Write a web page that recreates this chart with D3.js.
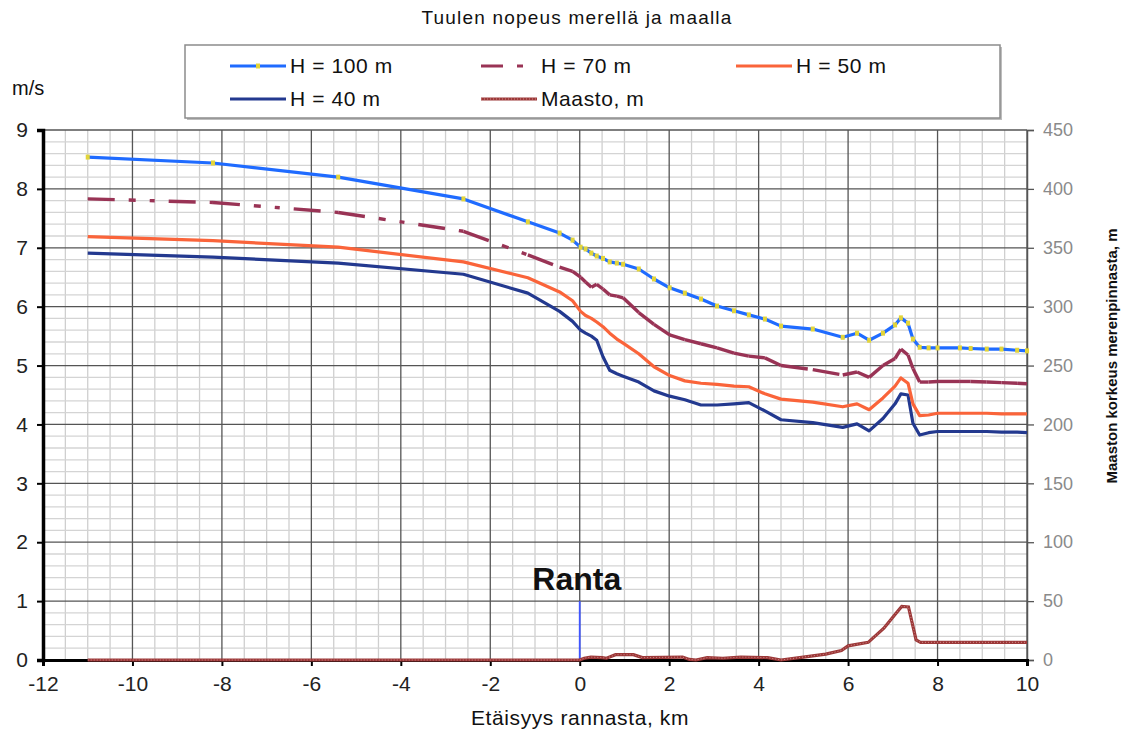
<!DOCTYPE html>
<html>
<head>
<meta charset="utf-8">
<script src="https://cdn.jsdelivr.net/npm/d3@7"></script>
<style>
  body { margin: 0; background: #ffffff; }
  text { font-family: "Liberation Sans", Arial, sans-serif; fill: #111; }
</style>
</head>
<body>
<script>
      const width = 1123;
      const height = 740;
      const margins = { top: 130, right: 96, bottom: 80, left: 43 };

      // Etäisyys rannasta, km (common x for the wind series)
      const distanceKm = [-11, -8.2, -5.4, -2.6, -1.16, -0.45, -0.16, 0.02, 0.13, 0.26, 0.38, 0.52, 0.67, 0.83, 0.97,
        1.32, 1.66, 2.01, 2.35, 2.71, 3.07, 3.45, 3.78, 4.14, 4.5, 5.21, 5.88, 6.2, 6.47, 6.78, 7.05, 7.18, 7.34,
        7.45, 7.6, 7.8, 8.0, 8.5, 8.74, 9.1, 9.43, 9.78, 10];

      const h100 = [8.54, 8.44, 8.2, 7.83, 7.44, 7.25, 7.13, 7.01, 6.98, 6.91, 6.86, 6.82, 6.76, 6.74, 6.72,
        6.64, 6.47, 6.32, 6.23, 6.13, 6.01, 5.93, 5.86, 5.79, 5.67, 5.62, 5.48, 5.55, 5.43, 5.55, 5.69, 5.81, 5.72,
        5.45, 5.31, 5.3, 5.3, 5.3, 5.29, 5.28, 5.28, 5.26, 5.25];
      const h70 = [7.83, 7.77, 7.6, 7.28, 6.88, 6.67, 6.6, 6.5, 6.42, 6.33, 6.38, 6.3, 6.2, 6.18, 6.15,
        5.9, 5.7, 5.52, 5.44, 5.37, 5.3, 5.21, 5.16, 5.13, 5.0, 4.93, 4.84, 4.89, 4.8, 5.0, 5.12, 5.28, 5.18,
        4.95, 4.72, 4.72, 4.73, 4.73, 4.73, 4.72, 4.71, 4.7, 4.69];
      const h50 = [7.19, 7.12, 7.01, 6.76, 6.49, 6.25, 6.1, 5.92, 5.85, 5.8, 5.74, 5.66, 5.55, 5.45, 5.38,
        5.2, 4.98, 4.83, 4.74, 4.7, 4.68, 4.65, 4.64, 4.52, 4.43, 4.38, 4.3, 4.35, 4.25, 4.45, 4.65, 4.79, 4.7,
        4.35, 4.15, 4.16, 4.19, 4.19, 4.19, 4.19, 4.18, 4.18, 4.18];
      const h40 = [6.91, 6.84, 6.74, 6.55, 6.23, 5.92, 5.75, 5.6, 5.55, 5.5, 5.43, 5.15, 4.92, 4.86, 4.82,
        4.72, 4.57, 4.48, 4.42, 4.33, 4.33, 4.35, 4.37, 4.23, 4.08, 4.03, 3.95, 4.01, 3.89, 4.1, 4.35, 4.52, 4.5,
        4.02, 3.82, 3.86, 3.88, 3.88, 3.88, 3.88, 3.87, 3.87, 3.86];

      // Maasto (terrain), secondary axis in metres
      const terrainKm = [-11, 0, 0.1, 0.25, 0.5, 0.6, 0.8, 1.2, 1.4, 2.3, 2.45, 2.6, 2.85, 3.2, 3.6, 4.2, 4.5,
        5.0, 5.5, 5.85, 6.0, 6.45, 6.8, 7.1, 7.2, 7.35, 7.52, 7.62, 8.5, 10];
      const terrainM = [0, 0, 1.5, 2.5, 2, 1.5, 4.5, 4.5, 2, 2.5, 0.5, 0, 2, 1.5, 2.5, 2, 0,
        2.5, 5, 8, 12, 15, 27, 41, 45.5, 45, 17, 15, 15, 15];

      const xTicks = [-12, -10, -8, -6, -4, -2, 0, 2, 4, 6, 8, 10];
      const yTicks = [0, 1, 2, 3, 4, 5, 6, 7, 8, 9];
      const y2Ticks = [0, 50, 100, 150, 200, 250, 300, 350, 400, 450];

      const svg = d3
        .select("body")
        .append("svg")
        .attr("width", width)
        .attr("height", height);

      const x = d3.scaleLinear().domain([-12, 10]).range([margins.left, width - margins.right]);
      const y = d3.scaleLinear().domain([0, 9]).range([height - margins.bottom, margins.top]);
      const y2 = d3.scaleLinear().domain([0, 450]).range([height - margins.bottom, margins.top]);

      // minor grid
      const grid = svg.append("g");
      grid
        .selectAll(".vminor")
        .data(d3.range(-12, 10.01, 0.5).filter((d) => Math.abs(d % 2) > 0.01))
        .enter()
        .append("line")
        .attr("x1", (d) => x(d))
        .attr("x2", (d) => x(d))
        .attr("y1", y(0))
        .attr("y2", y(9))
        .attr("stroke", "#cfcfcf")
        .attr("stroke-width", 1.3);
      grid
        .selectAll(".hminor")
        .data(d3.range(0, 9.001, 0.2).filter((d) => Math.abs(d - Math.round(d)) > 0.01))
        .enter()
        .append("line")
        .attr("x1", x(-12))
        .attr("x2", x(10))
        .attr("y1", (d) => y(d))
        .attr("y2", (d) => y(d))
        .attr("stroke", "#d4d4d4")
        .attr("stroke-width", 1.3);

      // major grid
      grid
        .selectAll(".vmajor")
        .data(xTicks)
        .enter()
        .append("line")
        .attr("x1", (d) => x(d))
        .attr("x2", (d) => x(d))
        .attr("y1", y(0))
        .attr("y2", y(9))
        .attr("stroke", "#555")
        .attr("stroke-width", 1.3);
      grid
        .selectAll(".hmajor")
        .data(yTicks)
        .enter()
        .append("line")
        .attr("x1", x(-12))
        .attr("x2", x(10))
        .attr("y1", (d) => y(d))
        .attr("y2", (d) => y(d))
        .attr("stroke", "#555")
        .attr("stroke-width", 1.3);

      // right axis (terrain)
      const rightAxis = svg
        .append("g")
        .attr("transform", "translate(" + x(10) + ",0)")
        .call(d3.axisRight(y2).tickValues(y2Ticks).tickSize(7).tickPadding(9));
      rightAxis.select(".domain").attr("stroke", "#555").attr("stroke-width", 1.5);
      rightAxis.selectAll(".tick line").attr("stroke", "#555").attr("stroke-width", 1.3);
      rightAxis
        .selectAll(".tick text")
        .attr("font-size", 18)
        .attr("font-family", "Liberation Sans, Arial, sans-serif")
        .style("fill", "#8a8a8a");

      // bottom axis
      const bottomAxis = svg
        .append("g")
        .attr("transform", "translate(0," + y(0) + ")")
        .call(
          d3
            .axisBottom(x)
            .tickValues(xTicks)
            .tickFormat((d) => String(d))
            .tickSize(6)
            .tickPadding(10)
        );
      bottomAxis.select(".domain").attr("stroke", "#000").attr("stroke-width", 3);
      bottomAxis.selectAll(".tick line").attr("stroke", "#000").attr("stroke-width", 2);
      bottomAxis
        .selectAll(".tick text")
        .attr("font-size", 21)
        .attr("font-family", "Liberation Sans, Arial, sans-serif")
        .style("fill", "#222");

      // left axis
      const leftAxis = svg
        .append("g")
        .attr("transform", "translate(" + x(-12) + ",0)")
        .call(d3.axisLeft(y).tickValues(yTicks).tickSize(6).tickPadding(9));
      leftAxis.select(".domain").attr("stroke", "#000").attr("stroke-width", 3.5);
      leftAxis.selectAll(".tick line").attr("stroke", "#000").attr("stroke-width", 2);
      leftAxis
        .selectAll(".tick text")
        .attr("font-size", 21)
        .attr("font-family", "Liberation Sans, Arial, sans-serif")
        .style("fill", "#222");

      // Ranta marker
      svg
        .append("line")
        .attr("x1", x(0))
        .attr("x2", x(0))
        .attr("y1", y(0))
        .attr("y2", y(1))
        .attr("stroke", "#3f55ff")
        .attr("stroke-width", 1.8);
      svg
        .append("text")
        .attr("x", x(0) - 3)
        .attr("y", y(1) - 11)
        .attr("text-anchor", "middle")
        .attr("font-size", 32)
        .attr("font-weight", "bold")
        .text("Ranta");

      const line = d3
        .line()
        .x((d) => x(d[0]))
        .y((d) => y(d[1]));
      const line2 = d3
        .line()
        .x((d) => x(d[0]))
        .y((d) => y2(d[1]));

      // terrain
      const terrain = d3.zip(terrainKm, terrainM);
      svg
        .append("path")
        .datum(terrain)
        .attr("d", line2)
        .attr("fill", "none")
        .attr("stroke", "#9c3838")
        .attr("stroke-width", 3.2);
      svg
        .append("path")
        .datum(terrain)
        .attr("d", line2)
        .attr("fill", "none")
        .attr("stroke", "#d08a8a")
        .attr("stroke-width", 1)
        .attr("stroke-dasharray", "1,2");

      // H = 40, H = 50
      svg
        .append("path")
        .datum(d3.zip(distanceKm, h40))
        .attr("d", line)
        .attr("fill", "none")
        .attr("stroke", "#23398f")
        .attr("stroke-width", 3.2)
        .attr("stroke-linejoin", "round");
      svg
        .append("path")
        .datum(d3.zip(distanceKm, h50))
        .attr("d", line)
        .attr("fill", "none")
        .attr("stroke", "#fa643a")
        .attr("stroke-width", 3.2)
        .attr("stroke-linejoin", "round");

      // H = 70, dash pattern restarts at every point
      const pts70 = d3.zip(distanceKm, h70);
      svg
        .append("g")
        .selectAll("path")
        .data(d3.pairs(pts70))
        .enter()
        .append("path")
        .attr("d", (d) => line(d))
        .attr("fill", "none")
        .attr("stroke", "#993355")
        .attr("stroke-width", 3.4)
        .attr("stroke-dasharray", "27,14,7,14,5,14");

      // H = 100 with markers
      const pts100 = d3.zip(distanceKm, h100);
      svg
        .append("path")
        .datum(pts100)
        .attr("d", line)
        .attr("fill", "none")
        .attr("stroke", "#1f6bff")
        .attr("stroke-width", 3.2)
        .attr("stroke-linejoin", "round");
      svg
        .append("g")
        .selectAll("rect")
        .data(pts100)
        .enter()
        .append("rect")
        .attr("x", (d) => x(d[0]) - 2)
        .attr("y", (d) => y(d[1]) - 2.5)
        .attr("width", 4)
        .attr("height", 5)
        .attr("fill", "#e3d53a");

      // texts
      svg
        .append("text")
        .attr("x", 577)
        .attr("y", 24)
        .attr("text-anchor", "middle")
        .attr("font-size", 19)
        .attr("letter-spacing", 1.2)
        .text("Tuulen nopeus merellä ja maalla");

      svg
        .append("text")
        .attr("x", 12)
        .attr("y", 95)
        .attr("font-size", 20)
        .text("m/s");

      svg
        .append("text")
        .attr("x", 580)
        .attr("y", 725)
        .attr("text-anchor", "middle")
        .attr("font-size", 21)
        .attr("letter-spacing", 0.6)
        .text("Etäisyys rannasta, km");

      svg
        .append("text")
        .attr("transform", "translate(1117,356) rotate(-90)")
        .attr("text-anchor", "middle")
        .attr("font-size", 15)
        .attr("font-weight", "bold")
        .text("Maaston korkeus merenpinnasta, m");

      // legend
      const legend = svg.append("g");
      legend
        .append("rect")
        .attr("x", 187)
        .attr("y", 47)
        .attr("width", 815)
        .attr("height", 73)
        .attr("fill", "#bdbdbd");
      legend
        .append("rect")
        .attr("x", 185)
        .attr("y", 45)
        .attr("width", 815)
        .attr("height", 73)
        .attr("fill", "#fff")
        .attr("stroke", "#8c8c8c")
        .attr("stroke-width", 1.5);

      const legendItems = [
        { name: "H = 100 m", x: 230, y: 66, color: "#1f6bff", dash: null, marker: true },
        { name: "H = 70 m", x: 481, y: 66, color: "#993355", dash: "22,14,6,14", marker: false },
        { name: "H = 50 m", x: 736, y: 66, color: "#fa643a", dash: null, marker: false },
        { name: "H = 40 m", x: 230, y: 99, color: "#23398f", dash: null, marker: false },
        { name: "Maasto, m", x: 481, y: 99, color: "#9c3838", dash: null, marker: false },
      ];

      const item = legend
        .selectAll(".item")
        .data(legendItems)
        .enter()
        .append("g");
      item
        .append("line")
        .attr("x1", (d) => d.x)
        .attr("x2", (d) => d.x + 56)
        .attr("y1", (d) => d.y)
        .attr("y2", (d) => d.y)
        .attr("stroke", (d) => d.color)
        .attr("stroke-width", 3.2)
        .attr("stroke-dasharray", (d) => d.dash);
      item
        .filter((d) => d.marker)
        .append("rect")
        .attr("x", (d) => d.x + 26)
        .attr("y", (d) => d.y - 2.5)
        .attr("width", 4)
        .attr("height", 5)
        .attr("fill", "#e3d53a");
      item
        .filter((d) => d.name == "Maasto, m")
        .append("line")
        .attr("x1", (d) => d.x)
        .attr("x2", (d) => d.x + 56)
        .attr("y1", (d) => d.y)
        .attr("y2", (d) => d.y)
        .attr("stroke", "#d08a8a")
        .attr("stroke-width", 1)
        .attr("stroke-dasharray", "1,2");
      item
        .append("text")
        .attr("x", (d) => d.x + 60)
        .attr("y", (d) => d.y + 7)
        .attr("font-size", 21)
        .attr("letter-spacing", 0.6)
        .text((d) => d.name);
</script>
</body>
</html>
